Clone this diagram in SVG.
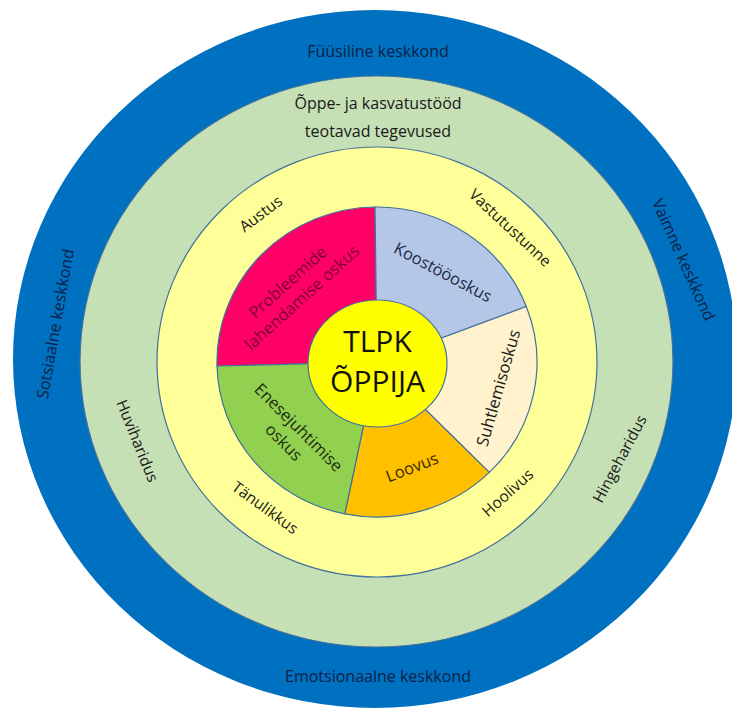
<svg xmlns="http://www.w3.org/2000/svg" width="732" height="709" viewBox="0 0 732 709">
<style>
.t{font-family:"Open Sans","Noto Sans","DejaVu Sans",sans-serif;text-anchor:middle}
.o{font-size:16px;fill:#0E2245}
.r{font-size:15.5px;fill:#1a1a1a}
.s{font-size:16.5px}
.ln{stroke:#41719C;stroke-width:1.2}
</style>
<rect width="732" height="709" fill="#ffffff"/>
<g id="ring-outer">
<ellipse cx="375" cy="359" rx="362" ry="349" fill="#0070C0"/>
<text class="t o" x="378" y="57">Füüsiline keskkond</text>
<text class="t o" x="378" y="682">Emotsionaalne keskkond</text>
<text class="t o" transform="translate(56,324) rotate(-80)" y="5">Sotsiaalne keskkond</text>
<text class="t o" transform="translate(683,260) rotate(66)" y="5">Vaimne keskkond</text>
</g>
<g id="ring-activities">
<ellipse class="ln" cx="376.5" cy="361.5" rx="296.5" ry="285.5" fill="#C5E0B4"/>
<text class="t r" x="378" y="109" style="font-size:16px">Õppe- ja kasvatustööd</text>
<text class="t r" x="378" y="137" style="font-size:16px">teotavad tegevused</text>
<text class="t r" transform="translate(137,441) rotate(68)" y="5">Huviharidus</text>
<text class="t r" transform="translate(620,459) rotate(-62)" y="5">Hingeharidus</text>
</g>
<g id="ring-values">
<ellipse class="ln" cx="377" cy="362" rx="220" ry="215" fill="#FFFF99"/>
<text class="t r" transform="translate(261,214) rotate(-37)" y="5">Austus</text>
<text class="t r" transform="translate(510,228) rotate(43)" y="5">Vastutustunne</text>
<text class="t r" transform="translate(265,508) rotate(36)" y="5">Tänulikkus</text>
<text class="t r" transform="translate(508,493) rotate(-42)" y="5">Hoolivus</text>
</g>
<g id="sector-probleemide">
<path class="ln" d="M377,362 L217,366 A160,155 0 0 1 375,207 Z" fill="#FF0066"/>
<text class="t s" transform="translate(295,290) rotate(-42)" fill="#7B0030"><tspan x="0" y="-5">Probleemide</tspan><tspan x="0" y="16">lahendamise oskus</tspan></text>
</g>
<g id="sector-koostoo">
<path class="ln" d="M377,362 L375,207 A160,155 0 0 1 526.3,306.5 Z" fill="#B4C7E7"/>
<text class="t s" transform="translate(443,272) rotate(28)" y="6" fill="#1F2A44">Koostööoskus</text>
</g>
<g id="sector-suhtlemis">
<path class="ln" d="M377,362 L526.3,306.5 A160,155 0 0 1 489.3,472.4 Z" fill="#FFF2CC"/>
<text class="t s" transform="translate(498,388) rotate(-74)" y="6" fill="#1a1a1a">Suhtlemisoskus</text>
</g>
<g id="sector-loovus">
<path class="ln" d="M377,362 L489.3,472.4 A160,155 0 0 1 344.8,513.9 Z" fill="#FFC000"/>
<text class="t s" transform="translate(412,467) rotate(-21)" y="6" fill="#3D2B00">Loovus</text>
</g>
<g id="sector-enesejuhtimise">
<path class="ln" d="M377,362 L344.8,513.9 A160,155 0 0 1 217,366 Z" fill="#92D050"/>
<text class="t s" transform="translate(291,435) rotate(45)" fill="#1E2E10"><tspan x="0" y="-5">Enesejuhtimise</tspan><tspan x="0" y="16">oskus</tspan></text>
</g>
<g id="center">
<ellipse class="ln" cx="377.5" cy="363.5" rx="69.5" ry="63.5" fill="#FFFF00"/>
<text class="t" x="377.5" y="352" style="font-size:30px" fill="#111">TLPK</text>
<text class="t" x="377.5" y="392" style="font-size:30px" fill="#111">ÕPPIJA</text>
</g>
</svg>
